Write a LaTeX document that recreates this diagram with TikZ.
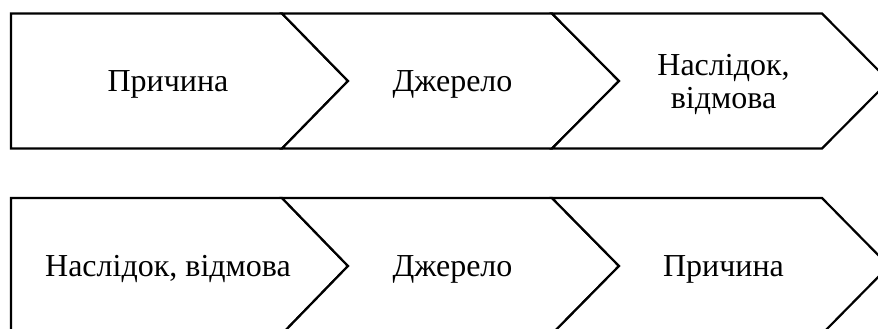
\documentclass[tikz,border=0pt]{standalone}
\usepackage{fontspec}
\setmainfont{Liberation Serif}
\begin{document}
\begin{tikzpicture}[x=1pt,y=-1pt,
  chev/.style={draw=black, fill=white, line width=2.2pt, line join=miter},
  lbl/.style={font=\fontsize{32}{33}\selectfont, align=center, anchor=base, inner sep=0pt}]
\useasboundingbox (0,0) rectangle (878,329);
\clip (0,0) rectangle (878,329);

% upper row: cause -> source -> consequence
\draw[chev] (11,13.5) -- (282,13.5) -- (348,81) -- (282,148.5) -- (11,148.5) -- cycle;
\draw[chev] (282,13.5) -- (552,13.5) -- (619,81) -- (552,148.5) -- (282,148.5) -- (348,81) -- cycle;
\draw[chev] (552,13.5) -- (822,13.5) -- (889,81) -- (822,148.5) -- (552,148.5) -- (619,81) -- cycle;
\node[lbl] (a1) at (168,91.5) {Причина};
\node[lbl] (a2) at (452.5,91.5) {Джерело};
\node[lbl] (a3) at (723.5,108) {Наслідок,\\відмова};

% lower row: consequence -> source -> cause
\draw[chev] (11,198) -- (282,198) -- (348,266) -- (282,334) -- (11,334) -- cycle;
\draw[chev] (282,198) -- (552,198) -- (619,266) -- (552,334) -- (282,334) -- (348,266) -- cycle;
\draw[chev] (552,198) -- (822,198) -- (889,266) -- (822,334) -- (552,334) -- (619,266) -- cycle;
\node[lbl] (b1) at (168,276.5) {Наслідок, відмова};
\node[lbl] (b2) at (452.5,276.5) {Джерело};
\node[lbl] (b3) at (723.5,276.5) {Причина};
\end{tikzpicture}
\end{document}
